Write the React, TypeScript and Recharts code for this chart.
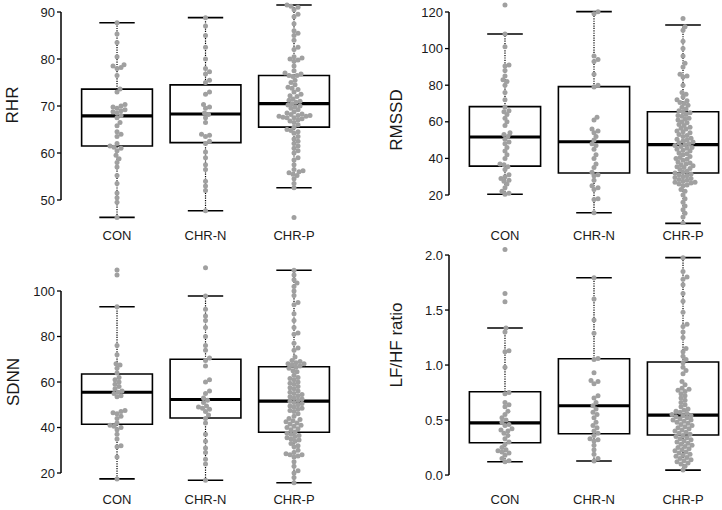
import {
  ComposedChart,
  Scatter,
  XAxis,
  YAxis,
  ReferenceArea,
  ReferenceLine,
} from "recharts";

const groups = ["CON", "CHR-N", "CHR-P"];

// RHR
const rhrCon = [87.7, 85.3, 83.5, 80.5, 78.8, 78.5, 78.2, 78.0, 76.5, 73.6, 73.0, 70.3, 70.0, 69.8, 69.5, 69.2, 69.0, 68.8, 68.5, 68.0, 67.5, 66.5, 65.8, 64.5, 64.0, 63.5, 62.0, 61.5, 61.2, 61.0, 60.5, 59.5, 58.8, 58.0, 57.0, 55.2, 53.5, 51.5, 50.5, 49.5, 46.3];
const rhrChrN = [88.8, 87.0, 85.0, 82.5, 80.0, 78.0, 77.3, 76.8, 75.5, 75.0, 73.0, 72.5, 70.3, 69.8, 69.5, 68.5, 68.2, 67.5, 66.5, 64.0, 63.8, 63.5, 62.5, 62.0, 60.2, 59.0, 57.5, 56.5, 54.0, 53.0, 52.0, 47.7];
const rhrChrP = [91.5, 91.2, 91.0, 90.5, 89.5, 89.0, 87.5, 86.0, 85.5, 85.0, 84.0, 82.5, 82.0, 80.5, 80.2, 80.0, 79.8, 79.5, 78.5, 77.5, 77.0, 76.8, 76.5, 76.5, 76.3, 75.5, 75.0, 74.5, 74.0, 73.8, 73.5, 73.0, 72.5, 72.2, 72.0, 71.5, 71.2, 71.0, 70.8, 70.5, 70.2, 70.0, 69.8, 69.5, 69.2, 68.8, 68.5, 68.3, 68.2, 68.0, 68.0, 67.8, 67.8, 67.6, 67.5, 67.5, 67.3, 67.0, 66.8, 66.5, 66.0, 65.5, 65.0, 64.8, 64.5, 64.2, 63.5, 63.0, 62.5, 62.0, 61.5, 61.0, 60.5, 60.0, 59.0, 58.5, 57.5, 56.5, 56.2, 56.0, 55.8, 55.5, 55.2, 54.5, 53.5, 52.6, 46.3];
// [low whisker, q1, median, q3, high whisker]
const rhrBoxes = [
  [46.3, 61.5, 67.9, 73.6, 87.7],
  [47.7, 62.2, 68.3, 74.5, 88.8],
  [52.6, 65.5, 70.5, 76.5, 91.5],
];
const rhrTicks = [50, 60, 70, 80, 90];

// RMSSD
const rmssdCon = [123.8, 108, 101, 91, 90.5, 88, 85, 83, 82, 80, 76, 72, 68, 66, 65.5, 64, 62, 60, 58, 54, 53, 52, 50.5, 49, 48, 46, 44, 42, 40, 37, 36.5, 35.5, 34, 31, 30, 29, 28, 27.5, 26, 24, 22, 21, 20.4];
const rmssdChrN = [120.2, 119, 96, 94, 93, 86, 80, 79, 62.5, 61, 56, 55, 54, 52, 50, 48, 47, 45, 42, 40, 37, 35, 32.5, 31, 30.5, 28, 25, 24, 23, 18, 17.5, 10.3];
const rmssdChrP = [116.5, 112, 110, 104, 100, 96, 92, 90, 86, 85, 84.5, 80, 76, 75, 73.5, 72, 71.5, 70.5, 70, 69, 68, 67, 66, 65.5, 65, 64, 63.5, 63, 62, 61.5, 61, 60, 59.5, 58.5, 58, 57, 56.5, 56, 55, 54.5, 54, 53, 52.5, 52, 51, 50.5, 50, 49.5, 49, 48.5, 48, 47.5, 47, 46.5, 46, 45.5, 45, 44.5, 44, 43, 42.5, 42, 41, 40.5, 40, 39.5, 39, 38, 37.5, 37, 36.5, 36, 35.5, 35, 34.5, 34, 33, 32.5, 32, 31.5, 31, 30.5, 30, 29.5, 29, 28.5, 28, 27.5, 27, 27, 26.5, 26, 25.5, 25, 23, 22, 20, 18, 16, 14, 12, 10, 8, 4.5];
const rmssdBoxes = [
  [20.4, 35.8, 51.7, 68.3, 108],
  [10.3, 32.0, 49.1, 79.2, 120.2],
  [4.5, 32.0, 47.5, 65.5, 112.9],
];
const rmssdTicks = [20, 40, 60, 80, 100, 120];

// SDNN
const sdnnCon = [109.2, 107, 93.1, 76, 72, 68, 67.5, 66, 64, 62, 61, 60, 59, 58, 57, 56, 55.5, 55, 54, 53.5, 47.5, 47, 46.5, 46, 45, 44, 42, 41, 40.5, 40, 39, 37, 35, 32, 31.5, 27, 17.4];
const sdnnChrN = [110.2, 97.8, 92, 89, 87, 84, 80, 76, 74, 70.5, 69.5, 67, 61, 60, 56, 55, 53, 52, 51, 49.5, 49, 48.5, 48, 47, 45.5, 44, 42, 37, 34, 31, 29, 26, 24, 16.8];
const sdnnChrP = [109.1, 107, 105, 103.5, 102, 100, 98, 95, 94, 90, 87, 84, 81.5, 81, 77, 75, 74, 71, 69.5, 69, 68.5, 68, 68, 67.5, 67, 66.5, 66, 65, 64.5, 63, 62, 61.5, 61, 60, 59.5, 59, 58, 57.5, 57, 56, 55.5, 55, 54.5, 54, 53.5, 53, 52.5, 52, 51.5, 51, 50.5, 50, 49.5, 49, 48.5, 48, 47.5, 47, 46, 45, 44, 43.5, 43, 42.5, 42, 41.5, 41, 40.5, 40, 39.5, 39, 38, 37.5, 37, 36.5, 36, 35.5, 35, 34.5, 34, 33, 32, 31.5, 30, 29, 28.5, 28, 28, 27.5, 27, 25, 23, 21, 20, 18, 15.7];
const sdnnBoxes = [
  [17.4, 41.4, 55.5, 63.5, 93.1],
  [16.8, 44.2, 52.3, 70.0, 97.8],
  [15.7, 37.9, 51.6, 66.7, 109.1],
];
const sdnnTicks = [20, 40, 60, 80, 100];

// LF/HF ratio
const lfhfCon = [2.05, 1.65, 1.575, 1.336, 1.3, 1.13, 1.12, 0.98, 0.75, 0.74, 0.66, 0.64, 0.62, 0.58, 0.55, 0.52, 0.5, 0.48, 0.46, 0.45, 0.42, 0.41, 0.4, 0.38, 0.36, 0.33, 0.3, 0.28, 0.25, 0.23, 0.22, 0.21, 0.2, 0.18, 0.15, 0.13, 0.121];
const lfhfChrN = [1.794, 1.6, 1.41, 1.29, 1.06, 1.05, 0.93, 0.86, 0.85, 0.83, 0.72, 0.7, 0.66, 0.63, 0.6, 0.57, 0.55, 0.52, 0.48, 0.45, 0.43, 0.4, 0.38, 0.36, 0.33, 0.32, 0.31, 0.27, 0.23, 0.19, 0.15, 0.127];
const lfhfChrP = [1.976, 1.85, 1.8, 1.78, 1.73, 1.65, 1.58, 1.48, 1.37, 1.35, 1.3, 1.25, 1.15, 1.12, 1.08, 1.05, 1.02, 0.98, 0.95, 0.92, 0.85, 0.82, 0.79, 0.78, 0.77, 0.76, 0.74, 0.72, 0.7, 0.68, 0.66, 0.64, 0.62, 0.6, 0.59, 0.58, 0.57, 0.56, 0.55, 0.54, 0.54, 0.53, 0.52, 0.51, 0.5, 0.5, 0.49, 0.48, 0.47, 0.46, 0.45, 0.44, 0.43, 0.42, 0.41, 0.4, 0.39, 0.38, 0.37, 0.36, 0.35, 0.34, 0.33, 0.32, 0.31, 0.3, 0.29, 0.28, 0.27, 0.26, 0.25, 0.24, 0.23, 0.22, 0.21, 0.2, 0.19, 0.18, 0.17, 0.16, 0.15, 0.14, 0.13, 0.12, 0.11, 0.1, 0.08, 0.045];
const lfhfBoxes = [
  [0.121, 0.294, 0.475, 0.757, 1.336],
  [0.127, 0.376, 0.63, 1.057, 1.794],
  [0.045, 0.364, 0.545, 1.027, 1.976],
];
const lfhfTicks = [0, 0.5, 1, 1.5, 2];

const DOT = "#a0a0a0";
const INK = "#000";
const TEXT = "#1a1a1a";
const FONT = '"Liberation Sans", Arial, sans-serif';

// simple beeswarm: push points sideways until they stop overlapping
function swarm(vals: number[], pxY: number) {
  const d = 4.0;
  const step = 1.0;
  const placed: { px: number; py: number }[] = [];
  const out: [number, number][] = [];
  [...vals].sort((a, b) => a - b).forEach((v) => {
    const py = v * pxY;
    let px = 0;
    for (let k = 0; k < 200; k++) {
      const cand = k === 0 ? 0 : Math.ceil(k / 2) * step * (k % 2 ? 1 : -1);
      const hit = placed.some(
        (p) => Math.abs(p.py - py) < d && Math.hypot(p.px - cand, p.py - py) < d
      );
      if (!hit) {
        px = cand;
        break;
      }
    }
    placed.push({ px, py });
    out.push([v, px]);
  });
  return out;
}

interface PanelProps {
  title: string;
  left: number;
  top: number;
  width: number;
  height: number;
  marginTop: number;
  yAxisWidth: number;
  xAxisHeight: number;
  xTickGap: number;
  xDomain: [number, number];
  yDomain: [number, number];
  yTicks: number[];
  fmt: (v: number) => string;
  labelX: number;
  labelY: number;
  points: number[][];
  boxes: number[][];
}

function Panel(p: PanelProps) {
  const plotW = p.width - p.yAxisWidth;
  const plotH = p.height - p.marginTop - p.xAxisHeight;
  const pxX = plotW / (p.xDomain[1] - p.xDomain[0]);
  const pxY = plotH / (p.yDomain[1] - p.yDomain[0]);
  const data = p.points.flatMap((vals, g) =>
    swarm(vals, pxY).map(([v, off]) => ({ x: g + 1 + off / pxX, y: v }))
  );
  const tickStyle = { fontSize: 13, fill: TEXT, fontFamily: FONT };

  return (
    <div style={{ position: "absolute", left: p.left, top: p.top }}>
      <ComposedChart
        width={p.width}
        height={p.height}
        margin={{ top: p.marginTop, right: 0, bottom: 0, left: 0 }}
      >
        <XAxis
          type="number"
          dataKey="x"
          domain={p.xDomain}
          allowDataOverflow
          ticks={[1, 2, 3]}
          interval={0}
          tickFormatter={(v: number) => groups[Math.round(v) - 1]}
          axisLine={false}
          tickLine={false}
          tickSize={0}
          tickMargin={p.xTickGap}
          height={p.xAxisHeight}
          tick={tickStyle}
        />
        <YAxis
          type="number"
          dataKey="y"
          domain={p.yDomain}
          allowDataOverflow
          ticks={p.yTicks}
          interval={0}
          tickFormatter={p.fmt}
          width={p.yAxisWidth}
          axisLine={false}
          tickLine={{ stroke: INK, strokeWidth: 1.3 }}
          tickSize={4}
          tickMargin={2}
          tick={tickStyle}
          label={{
            content: () => (
              <text
                x={p.labelX}
                y={p.labelY}
                transform={`rotate(-90 ${p.labelX} ${p.labelY})`}
                textAnchor="middle"
                dominantBaseline="central"
                fontSize={17}
                fill={TEXT}
                fontFamily={FONT}
              >
                {p.title}
              </text>
            ),
          }}
        />
        <ReferenceLine
          segment={[
            { x: p.xDomain[0], y: p.yTicks[0] },
            { x: p.xDomain[0], y: p.yTicks[p.yTicks.length - 1] },
          ]}
          stroke={INK}
          strokeWidth={1.5}
          ifOverflow="visible"
        />
        {p.boxes.map(([lo, q1, med, q3, hi], g) => {
          const c = g + 1;
          return [
            <ReferenceLine
              key={`wl${g}`}
              segment={[{ x: c, y: lo }, { x: c, y: q1 }]}
              stroke={INK}
              strokeWidth={1.2}
              strokeDasharray="1.2 1.2"
              ifOverflow="visible"
            />,
            <ReferenceLine
              key={`wh${g}`}
              segment={[{ x: c, y: q3 }, { x: c, y: hi }]}
              stroke={INK}
              strokeWidth={1.2}
              strokeDasharray="1.2 1.2"
              ifOverflow="visible"
            />,
            <ReferenceLine
              key={`cl${g}`}
              segment={[{ x: c - 0.2, y: lo }, { x: c + 0.2, y: lo }]}
              stroke={INK}
              strokeWidth={1.6}
              ifOverflow="visible"
            />,
            <ReferenceLine
              key={`ch${g}`}
              segment={[{ x: c - 0.2, y: hi }, { x: c + 0.2, y: hi }]}
              stroke={INK}
              strokeWidth={1.6}
              ifOverflow="visible"
            />,
            <ReferenceArea
              key={`b${g}`}
              x1={c - 0.4}
              x2={c + 0.4}
              y1={q1}
              y2={q3}
              fill="#fff"
              fillOpacity={1}
              stroke={INK}
              strokeWidth={1.6}
              ifOverflow="visible"
            />,
            <ReferenceLine
              key={`m${g}`}
              segment={[{ x: c - 0.4, y: med }, { x: c + 0.4, y: med }]}
              stroke={INK}
              strokeWidth={3.2}
              ifOverflow="visible"
            />,
          ];
        })}
        <Scatter
          data={data}
          isAnimationActive={false}
          shape={(s: any) => <circle cx={s.cx} cy={s.cy} r={2.5} fill={DOT} />}
        />
      </ComposedChart>
    </div>
  );
}

const fmtInt = (v: number) => String(v);
const fmt1 = (v: number) => v.toFixed(1);

export default function App() {
  return (
    <div
      style={{
        position: "absolute",
        left: 0,
        top: 0,
        width: 722,
        height: 510,
        background: "#fff",
        overflow: "hidden",
      }}
    >
      <Panel
        title="RHR"
        left={0}
        top={0}
        width={361}
        height={255}
        marginTop={2}
        yAxisWidth={61}
        xAxisHeight={30}
        xTickGap={6}
        xDomain={[0.367, 3.757]}
        yDomain={[44.68, 92.13]}
        yTicks={rhrTicks}
        fmt={fmtInt}
        labelX={12}
        labelY={105}
        points={[rhrCon, rhrChrN, rhrChrP]}
        boxes={rhrBoxes}
      />
      <Panel
        title="RMSSD"
        left={361}
        top={0}
        width={361}
        height={255}
        marginTop={2}
        yAxisWidth={88}
        xAxisHeight={30}
        xTickGap={6}
        xDomain={[0.371, 3.438]}
        yDomain={[3.61, 125.46]}
        yTicks={rmssdTicks}
        fmt={fmtInt}
        labelX={35}
        labelY={120}
        points={[rmssdCon, rmssdChrN, rmssdChrP]}
        boxes={rmssdBoxes}
      />
      <Panel
        title="SDNN"
        left={0}
        top={255}
        width={361}
        height={255}
        marginTop={7}
        yAxisWidth={61}
        xAxisHeight={20}
        xTickGap={5}
        xDomain={[0.367, 3.757]}
        yDomain={[12.53, 112.75]}
        yTicks={sdnnTicks}
        fmt={fmtInt}
        labelX={13}
        labelY={127}
        points={[sdnnCon, sdnnChrN, sdnnChrP]}
        boxes={sdnnBoxes}
      />
      <Panel
        title="LF/HF ratio"
        left={361}
        top={240}
        width={361}
        height={270}
        marginTop={7}
        yAxisWidth={88}
        xAxisHeight={20}
        xTickGap={5}
        xDomain={[0.371, 3.438]}
        yDomain={[-0.136, 2.073]}
        yTicks={lfhfTicks}
        fmt={fmt1}
        labelX={35}
        labelY={105}
        points={[lfhfCon, lfhfChrN, lfhfChrP]}
        boxes={lfhfBoxes}
      />
    </div>
  );
}
